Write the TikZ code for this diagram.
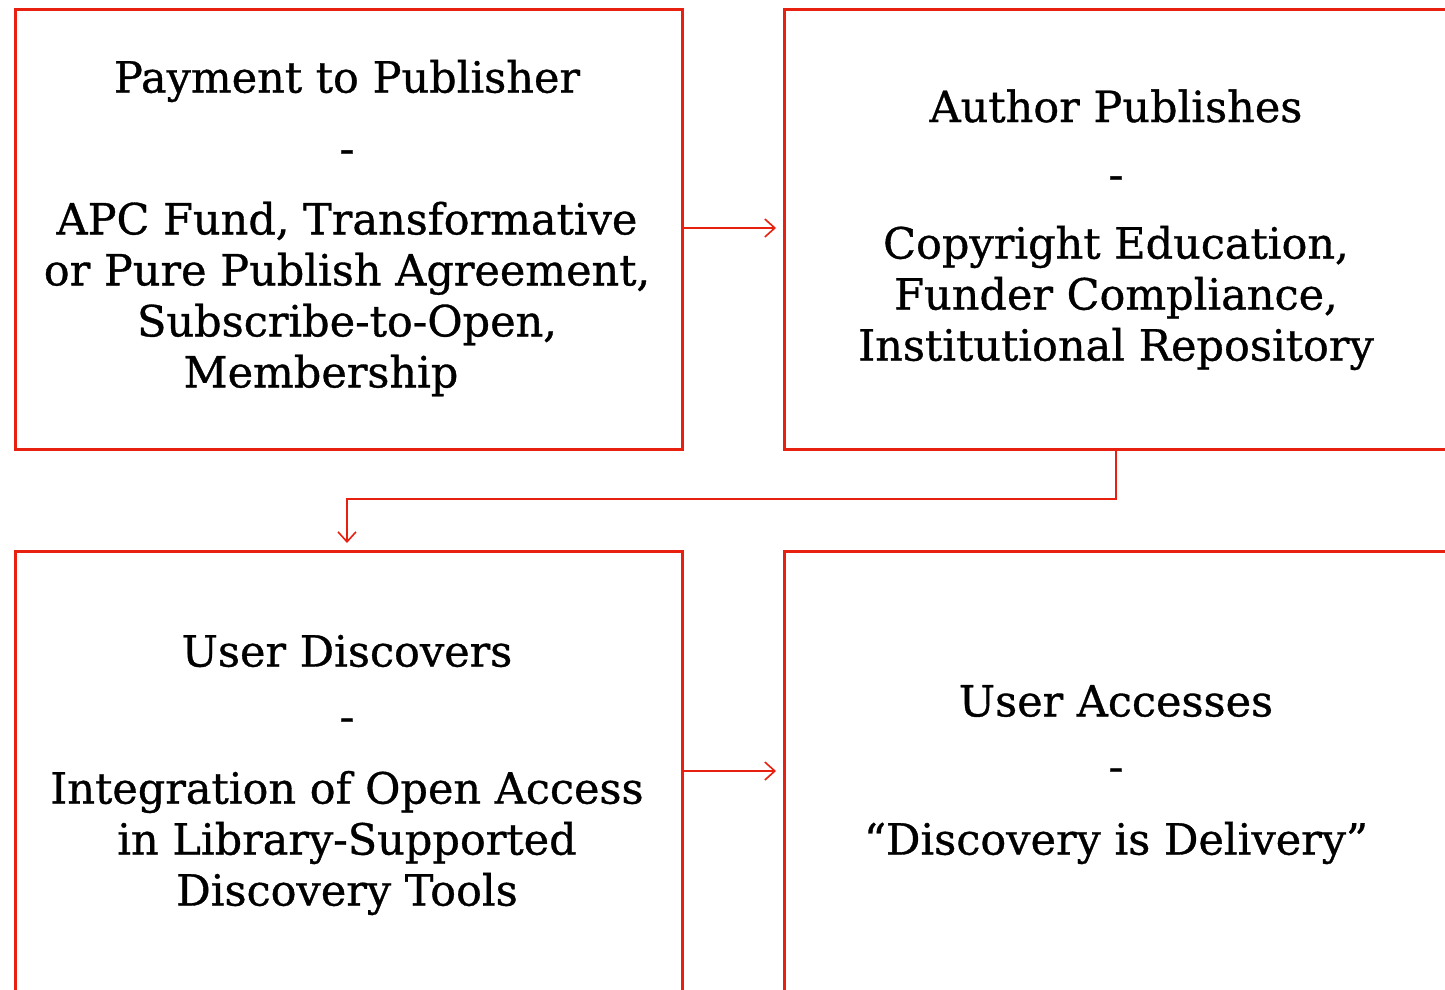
\documentclass[tikz,border=0pt]{standalone}
\usepackage{fontspec}
\setmainfont{DejaVu Serif}[FakeBold=0.8]
\usetikzlibrary{arrows.meta}
\definecolor{boxred}{RGB}{232,32,16}
\tikzset{
  box/.style={draw=boxred, line width=3.3pt, rectangle, anchor=north west, inner sep=0pt},
  txt/.style={font=\fontsize{43}{51}\selectfont, align=center, text=black, inner sep=0pt},
  conn/.style={draw=boxred, line width=1.6pt, -{Straight Barb[length=10pt,width=18pt,line width=1.6pt]}}
}
\begin{document}
\begin{tikzpicture}[x=1pt,y=-1pt]
\useasboundingbox (0,0) rectangle (1445,989);
\clip (0,0) rectangle (1445,989);
\fill[white] (0,0) rectangle (1445,989);
% boxes
\node[box, minimum width=667pt, minimum height=440pt] (b1) at (14,8) {};
\node[box, minimum width=700pt, minimum height=440pt] (b2) at (783,8) {};
\node[box, minimum width=667pt, minimum height=480pt] (b3) at (14,550) {};
\node[box, minimum width=700pt, minimum height=480pt] (b4) at (783,550) {};
% box 1 text
\node[txt] (t1a) at (347,81) {Payment to Publisher};
\node[txt] (t1b) at (347,157) {-};
\node[txt] (t1c) at (347,299) {APC Fund, Transformative\\or Pure Publish Agreement,\\Subscribe-to-Open,\\Membership\hspace*{52pt}};
% box 2 text
\node[txt] (t2a) at (1116,106) {Author Publishes};
\node[txt] (t2b) at (1116,183) {-};
\node[txt] (t2c) at (1116,298) {Copyright Education,\\Funder Compliance,\\Institutional Repository};
% box 3 text
\node[txt] (t3a) at (347,651) {User Discovers};
\node[txt] (t3b) at (347,725) {-};
\node[txt] (t3c) at (347,843) {Integration of Open Access\\in Library-Supported\\Discovery Tools};
% box 4 text
\node[txt] (t4a) at (1116,701) {User Accesses};
\node[txt] (t4b) at (1116,775) {-};
\node[txt] (t4c) at (1116,843) {“Discovery is Delivery”};
% connectors
\coordinate (c1) at (776,228);
\draw[conn] (b1.east |- c1) -- (c1);
\coordinate (c2) at (1116,499);
\coordinate (c3) at (347,543);
\draw[conn] (c2 |- b2.south) -- (c2) -| (c3);
\coordinate (c4) at (776,771);
\draw[conn] (b3.east |- c4) -- (c4);
\end{tikzpicture}
\end{document}
